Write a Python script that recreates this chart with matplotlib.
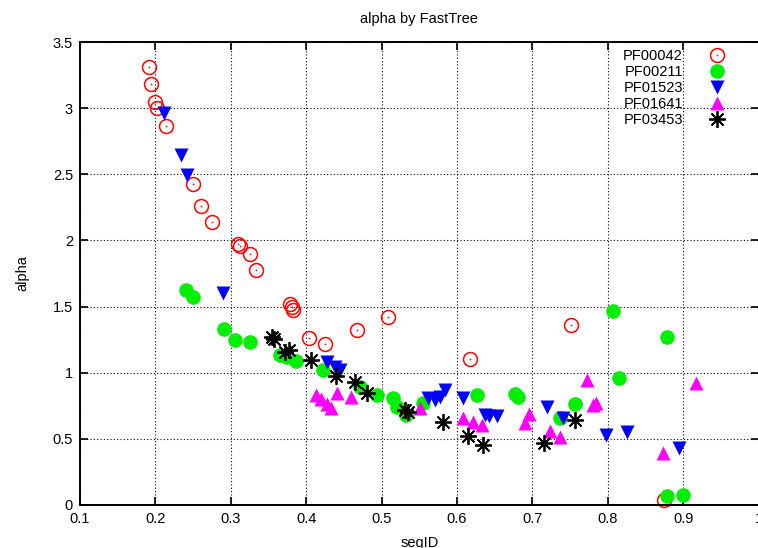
import matplotlib
matplotlib.use("Agg")
import matplotlib.pyplot as plt
from matplotlib.legend_handler import HandlerTuple

plt.rcParams['font.family'] = ['Liberation Sans', 'DejaVu Sans']

# ---- data ----
pf00042_x = [0.191, 0.194, 0.1995, 0.202, 0.214, 0.250, 0.260, 0.2755, 0.310, 0.312, 0.3255, 0.333,
             0.3785, 0.381, 0.383, 0.404, 0.425, 0.467, 0.509, 0.617, 0.751, 0.875]
pf00042_y = [3.31, 3.18, 3.05, 3.00, 2.865, 2.425, 2.26, 2.14, 1.97, 1.96, 1.90, 1.775,
             1.52, 1.495, 1.475, 1.265, 1.22, 1.32, 1.42, 1.10, 1.36, 0.04]

pf00211_x = [0.2406, 0.250, 0.2914, 0.3056, 0.326, 0.3653, 0.375, 0.387, 0.4227, 0.471, 0.494,
             0.5147, 0.520, 0.532, 0.555, 0.626, 0.677, 0.681, 0.7366, 0.7565, 0.807, 0.815,
             0.878, 0.878, 0.900]
pf00211_y = [1.625, 1.570, 1.328, 1.25, 1.23, 1.134, 1.116, 1.091, 1.02, 0.894, 0.831,
             0.806, 0.743, 0.680, 0.769, 0.831, 0.839, 0.819, 0.655, 0.766, 1.466, 0.962,
             1.267, 0.066, 0.075]

pf01523_x = [0.212, 0.234, 0.2415, 0.290, 0.427, 0.438, 0.445, 0.562, 0.571, 0.578, 0.584,
             0.6075, 0.637, 0.643, 0.6535, 0.719, 0.741, 0.7976, 0.825, 0.8944]
pf01523_y = [2.96, 2.646, 2.494, 1.605, 1.08, 1.045, 1.02, 0.806, 0.794, 0.82, 0.866,
             0.806, 0.68, 0.672, 0.673, 0.743, 0.655, 0.529, 0.554, 0.428]

pf01641_x = [0.413, 0.420, 0.427, 0.433, 0.441, 0.460, 0.551, 0.608, 0.6208, 0.6327, 0.690,
             0.696, 0.7233, 0.7366, 0.772, 0.781, 0.785, 0.873, 0.917]
pf01641_y = [0.83, 0.80, 0.76, 0.73, 0.85, 0.82, 0.731, 0.655, 0.63, 0.605, 0.618,
             0.686, 0.562, 0.516, 0.945, 0.756, 0.769, 0.395, 0.92]

pf03453_x = [0.3545, 0.357, 0.372, 0.377, 0.407, 0.4395, 0.4645, 0.480, 0.531, 0.5354, 0.582,
             0.615, 0.634, 0.7154, 0.7565]
pf03453_y = [1.27, 1.255, 1.16, 1.175, 1.093, 0.975, 0.932, 0.847, 0.718, 0.705, 0.628,
             0.522, 0.456, 0.466, 0.645]

labels = ["PF00042", "PF00211", "PF01523", "PF01641", "PF03453"]
xticks = [0.1, 0.2, 0.3, 0.4, 0.5, 0.6, 0.7, 0.8, 0.9, 1.0]
xticklabels = ["0.1", "0.2", "0.3", "0.4", "0.5", "0.6", "0.7", "0.8", "0.9", "1"]
yticks = [0, 0.5, 1, 1.5, 2, 2.5, 3, 3.5]
yticklabels = ["0", "0.5", "1", "1.5", "2", "2.5", "3", "3.5"]

# ---- figure ----
W, H = 758, 548
fig = plt.figure(figsize=(W / 100, H / 100), dpi=100)
ax = fig.add_axes([80 / W, 43 / H, 678.6 / W, 463 / H])
ax.set_xlim(0.1, 1.0)
ax.set_ylim(0, 3.5)

h1, = ax.plot(pf00042_x, pf00042_y, ls='none', marker='o', ms=10, mfc='none',
              mec='#ff0000', mew=1.1, clip_on=False)
h1d, = ax.plot(pf00042_x, pf00042_y, ls='none', marker='o', ms=1.2, mfc='#ff0000',
               mec='none', clip_on=False)
h2, = ax.plot(pf00211_x, pf00211_y, ls='none', marker='o', ms=10.5, mfc='#00ee00',
              mec='none', clip_on=False)
h3, = ax.plot(pf01523_x, pf01523_y, ls='none', marker='v', ms=10, mfc='#0000ff',
              mec='none', clip_on=False)
h4, = ax.plot(pf01641_x, pf01641_y, ls='none', marker='^', ms=10, mfc='#ff00ff',
              mec='none', clip_on=False)
h5, = ax.plot(pf03453_x, pf03453_y, ls='none', marker=(8, 2, 0), ms=12, mec='black',
              mew=1.3, clip_on=False)

ax.grid(True, color='black', ls=(0, (1, 2)), lw=0.8)
ax.set_axisbelow(True)
for s in ax.spines.values():
    s.set_linewidth(1.4)
    s.set_color('black')

ax.set_xticks(xticks)
ax.set_xticklabels(xticklabels)
ax.set_yticks(yticks)
ax.set_yticklabels(yticklabels)
ax.tick_params(direction='in', length=6, width=1.2, top=True, right=True,
               labelsize=10.5, pad=5, colors='black')

ax.set_title("alpha by FastTree", fontsize=10.5, pad=14)
ax.set_xlabel("seqID", fontsize=10.5, labelpad=7.5)
ax.set_ylabel("alpha", fontsize=10.5, labelpad=17)

leg = ax.legend([(h1, h1d), h2, h3, h4, h5], labels, loc='upper right',
                bbox_to_anchor=(0.9614, 0.995), borderaxespad=0.0,
                frameon=False, markerfirst=False,
                handler_map={tuple: HandlerTuple(ndivide=1)},
                fontsize=10.5, handlelength=1.5, handletextpad=1.6,
                labelspacing=0.15, borderpad=0.3)

fig.savefig("out.png", dpi=100)
